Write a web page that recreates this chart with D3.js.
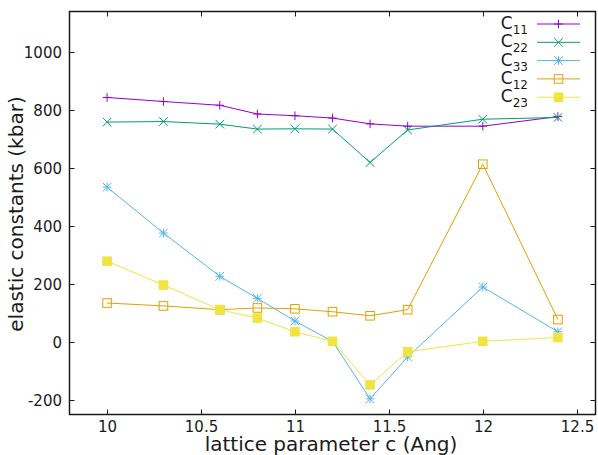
<!DOCTYPE html>
<html>
<head>
<meta charset="utf-8">
<script src="https://cdn.jsdelivr.net/npm/d3@7"></script>
<style>
body { margin: 0; background: #fff; }
text { font-family: "DejaVu Sans", sans-serif; fill: #1a1a1a; }
</style>
</head>
<body>
<svg id="chart" width="598" height="455"></svg>
<script>
// lattice parameter c (Ang)
var cValues = [10, 10.3, 10.6, 10.8, 11, 11.2, 11.4, 11.6, 12, 12.4];

// elastic constants (kbar)
var c11 = [842, 828, 815, 785, 779, 771, 751, 743, 743, 776];
var c22 = [757, 759, 750, 733, 734, 733, 618, 730, 767, 773];
var c33 = [533, 375, 226, 150, 72, 2, -196, -52, 189, 35];
var c12 = [134, 124, 111, 117, 114, 104, 90, 111, 612, 77];
var c23 = [278, 196, 111, 82, 35, 2, -148, -34, 2, 15];

var xTicks = [10, 10.5, 11, 11.5, 12, 12.5];
var yTicks = [-200, 0, 200, 400, 600, 800, 1000];

var series = [
    {name: "11", vals: c11, color: "#9400d3", mark: "plus"},
    {name: "22", vals: c22, color: "#009e73", mark: "cross"},
    {name: "33", vals: c33, color: "#56b4e9", mark: "star"},
    {name: "12", vals: c12, color: "#e69f00", mark: "square"},
    {name: "23", vals: c23, color: "#f0e442", mark: "fsquare"}
];

var svg = d3.select("#chart");
var pLeft = 69.5, pRight = 595.5, pTop = 11.5, pBottom = 414.5;

var x = d3.scaleLinear().domain([9.8, 12.6]).range([pLeft, pRight]);
var y = d3.scaleLinear().domain([-250, 1138]).range([pBottom, pTop]);

// draw one marker at px,py
function marker(g, kind, px, py, color) {
    var h = 4.3;
    if (kind == "plus" || kind == "star") {
        g.append("path")
            .attr("d", "M" + (px - h) + "," + py + "H" + (px + h) + "M" + px + "," + (py - h) + "V" + (py + h))
            .attr("stroke", color).attr("stroke-width", 1).attr("fill", "none");
    }
    if (kind == "cross" || kind == "star") {
        g.append("path")
            .attr("d", "M" + (px - h) + "," + (py - h) + "L" + (px + h) + "," + (py + h) +
                  "M" + (px - h) + "," + (py + h) + "L" + (px + h) + "," + (py - h))
            .attr("stroke", color).attr("stroke-width", 1).attr("fill", "none");
    }
    if (kind == "square") {
        g.append("rect")
            .attr("x", px - h).attr("y", py - h).attr("width", 2 * h).attr("height", 2 * h)
            .attr("stroke", color).attr("stroke-width", 1).attr("fill", "none");
    }
    if (kind == "fsquare") {
        g.append("rect")
            .attr("x", px - h - 0.5).attr("y", py - h - 0.5).attr("width", 2 * h + 1).attr("height", 2 * h + 1)
            .attr("fill", color);
    }
}

// ticks, inward and mirrored
var tk = svg.append("g").attr("stroke", "#1a1a1a").attr("stroke-width", 1);
xTicks.forEach(function(v) {
    var px = Math.round(x(v)) + 0.5;
    tk.append("line").attr("x1", px).attr("x2", px).attr("y1", pBottom).attr("y2", pBottom - 5);
    tk.append("line").attr("x1", px).attr("x2", px).attr("y1", pTop).attr("y2", pTop + 5);
    svg.append("text").attr("x", px).attr("y", 432).attr("text-anchor", "middle")
        .attr("font-size", 15).text(v);
});
yTicks.forEach(function(v) {
    var py = Math.round(y(v)) + 0.5;
    tk.append("line").attr("x1", pLeft).attr("x2", pLeft + 5).attr("y1", py).attr("y2", py);
    tk.append("line").attr("x1", pRight).attr("x2", pRight - 5).attr("y1", py).attr("y2", py);
    svg.append("text").attr("x", 62).attr("y", py + 5.5).attr("text-anchor", "end")
        .attr("font-size", 15).text(v);
});

// series
var line = d3.line().x(function(d) { return x(d[0]); }).y(function(d) { return y(d[1]); });
series.forEach(function(s) {
    var pts = cValues.map(function(c, i) { return [c, s.vals[i]]; });
    var g = svg.append("g");
    g.append("path").attr("d", line(pts)).attr("fill", "none")
        .attr("stroke", s.color).attr("stroke-width", 1);
    pts.forEach(function(p) { marker(g, s.mark, x(p[0]), y(p[1]), s.color); });
});

// frame
svg.append("rect").attr("x", pLeft).attr("y", pTop)
    .attr("width", pRight - pLeft).attr("height", pBottom - pTop)
    .attr("fill", "none").attr("stroke", "#1a1a1a").attr("stroke-width", 1.5);

// legend
series.forEach(function(s, i) {
    var ly = 24 + i * 18.3;
    var t = svg.append("text").attr("x", 528).attr("y", ly + 5).attr("text-anchor", "end")
        .attr("font-size", 17);
    t.append("tspan").text("C");
    t.append("tspan").attr("font-size", 12).attr("dy", 5).text(s.name);
    var g = svg.append("g");
    g.append("line").attr("x1", 537).attr("x2", 580).attr("y1", ly).attr("y2", ly)
        .attr("stroke", s.color).attr("stroke-width", 1);
    marker(g, s.mark, 558.5, ly, s.color);
});

// axis labels
svg.append("text").attr("x", 331).attr("y", 451).attr("text-anchor", "middle")
    .attr("font-size", 20).text("lattice parameter c (Ang)");
svg.append("text").attr("transform", "translate(23,214) rotate(-90)")
    .attr("text-anchor", "middle").attr("font-size", 20).text("elastic constants (kbar)");
</script>
</body>
</html>
